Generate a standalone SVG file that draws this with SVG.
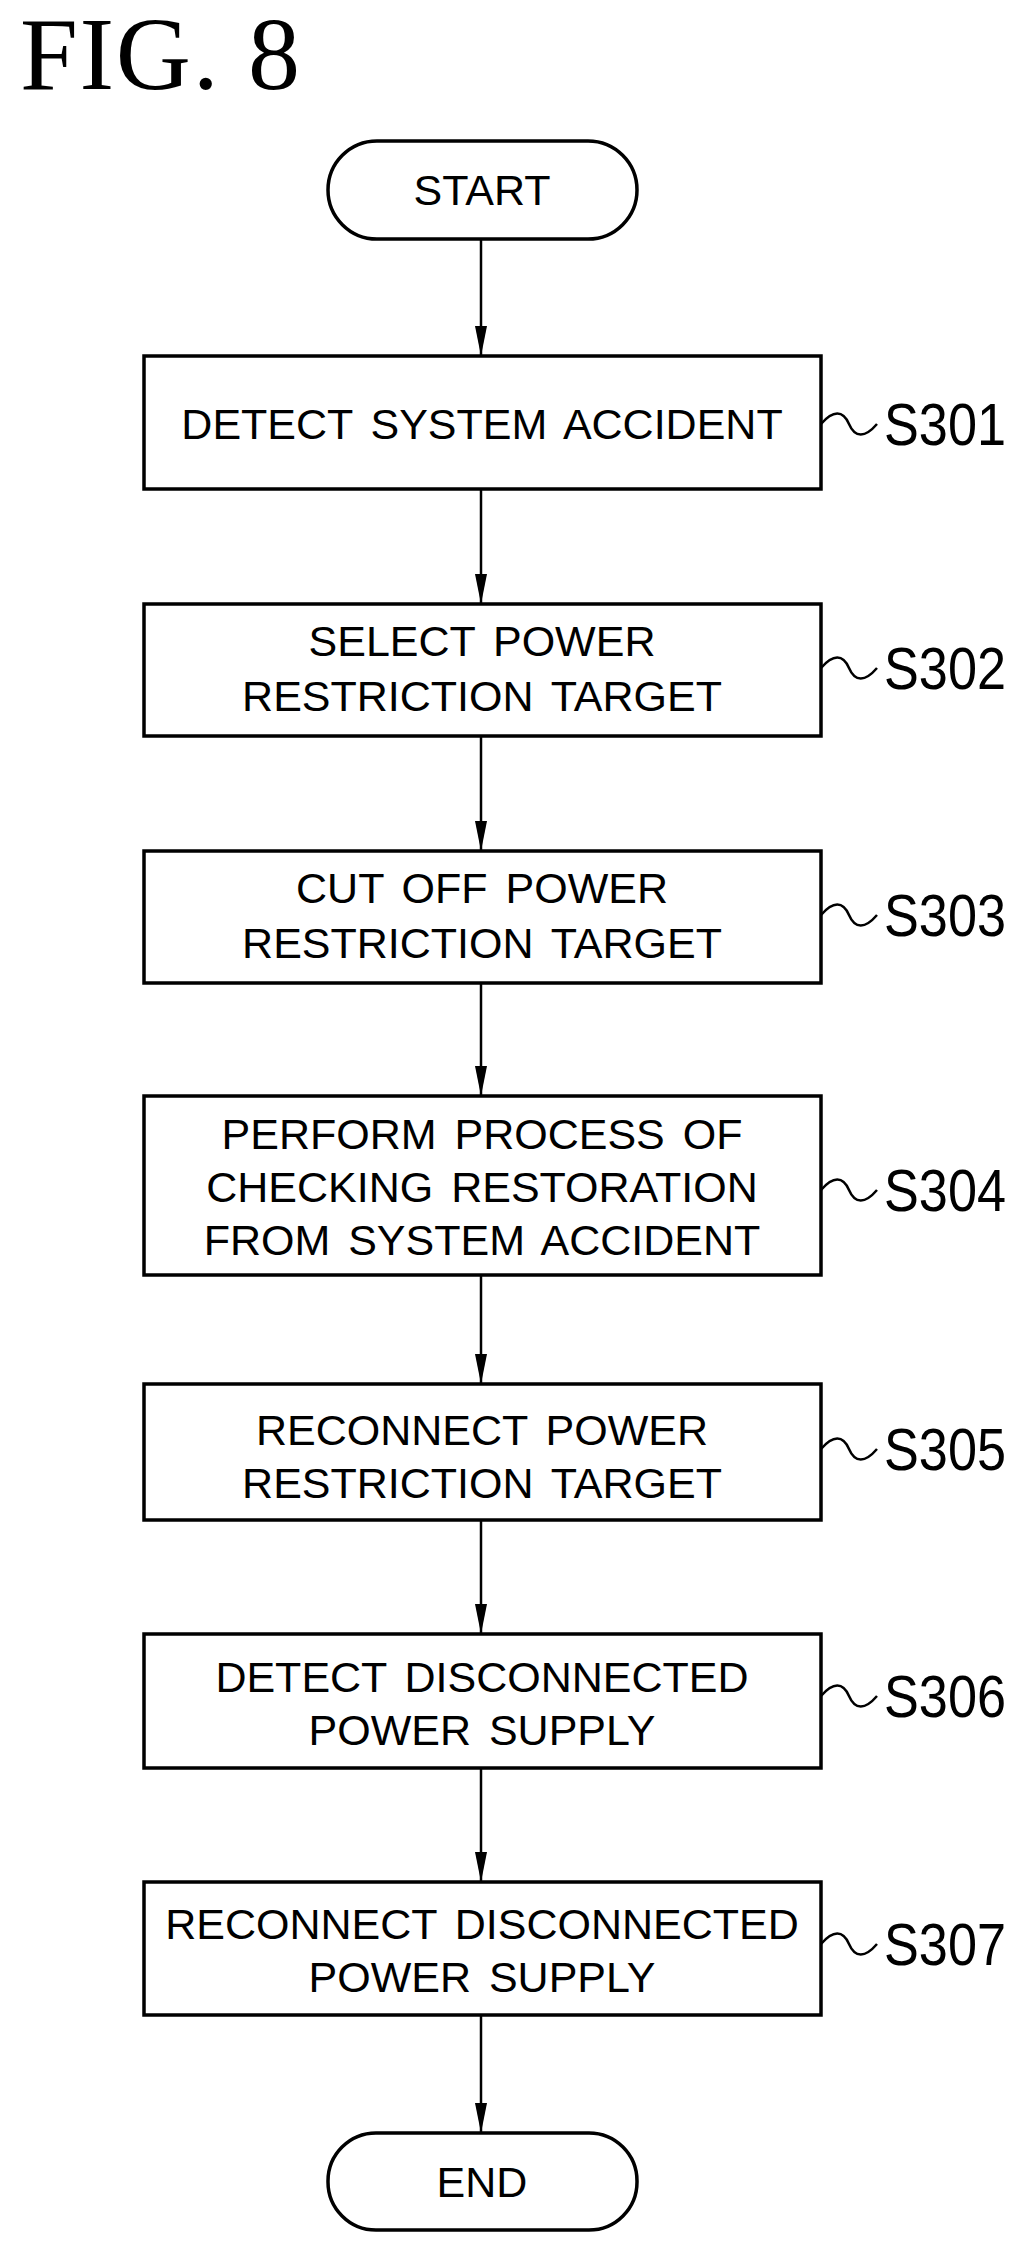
<svg xmlns="http://www.w3.org/2000/svg" width="1029" height="2261" viewBox="0 0 1029 2261">
<style>
.b{fill:#fff;stroke:#000;stroke-width:3.5}
.t{font-family:"Liberation Sans",sans-serif;font-size:43px;text-anchor:middle;dominant-baseline:central;word-spacing:6px}
.l{font-family:"Liberation Sans",sans-serif;font-size:60px;dominant-baseline:central}
.c{stroke:#000;stroke-width:2.5;fill:none}
</style>
<defs>
<marker id="ah" viewBox="0 0 30 12" refX="30" refY="6" markerWidth="30" markerHeight="12" orient="auto" markerUnits="userSpaceOnUse"><path d="M0,0 L30,6 L0,12Z"/></marker></defs>
<text x="20" y="89" font-family="Liberation Serif,serif" font-size="104" textLength="280" lengthAdjust="spacing">FIG. 8</text>
<g id="connectors">
<line class="c" x1="481" y1="239" x2="481" y2="356" marker-end="url(#ah)"/>
<line class="c" x1="481" y1="489" x2="481" y2="604" marker-end="url(#ah)"/>
<line class="c" x1="481" y1="736" x2="481" y2="851" marker-end="url(#ah)"/>
<line class="c" x1="481" y1="983" x2="481" y2="1096" marker-end="url(#ah)"/>
<line class="c" x1="481" y1="1275" x2="481" y2="1384" marker-end="url(#ah)"/>
<line class="c" x1="481" y1="1520" x2="481" y2="1634" marker-end="url(#ah)"/>
<line class="c" x1="481" y1="1768" x2="481" y2="1882" marker-end="url(#ah)"/>
<line class="c" x1="481" y1="2015" x2="481" y2="2133" marker-end="url(#ah)"/>
</g>
<g id="start"><rect class="b" x="328" y="141" width="309" height="98" rx="49"/><text class="t" x="482" y="190">START</text></g>
<g id="s301"><rect class="b" x="144" y="356" width="677" height="133"/><text class="t" x="482" y="424">DETECT SYSTEM ACCIDENT</text>
<path class="c" d="M821,424 c12,-14 22,-14 28,0 s16,14 28,0"/><text class="l" x="884" y="424" textLength="122" lengthAdjust="spacingAndGlyphs">S301</text></g>
<g id="s302"><rect class="b" x="144" y="604" width="677" height="132"/><text class="t" x="482" y="641">SELECT POWER</text><text class="t" x="482" y="696">RESTRICTION TARGET</text>
<path class="c" d="M821,668 c12,-14 22,-14 28,0 s16,14 28,0"/><text class="l" x="884" y="668" textLength="122" lengthAdjust="spacingAndGlyphs">S302</text></g>
<g id="s303"><rect class="b" x="144" y="851" width="677" height="132"/><text class="t" x="482" y="888">CUT OFF POWER</text><text class="t" x="482" y="943">RESTRICTION TARGET</text>
<path class="c" d="M821,915 c12,-14 22,-14 28,0 s16,14 28,0"/><text class="l" x="884" y="915" textLength="122" lengthAdjust="spacingAndGlyphs">S303</text></g>
<g id="s304"><rect class="b" x="144" y="1096" width="677" height="179"/><text class="t" x="482" y="1134">PERFORM PROCESS OF</text><text class="t" x="482" y="1187">CHECKING RESTORATION</text><text class="t" x="482" y="1240">FROM SYSTEM ACCIDENT</text>
<path class="c" d="M821,1190 c12,-14 22,-14 28,0 s16,14 28,0"/><text class="l" x="884" y="1190" textLength="122" lengthAdjust="spacingAndGlyphs">S304</text></g>
<g id="s305"><rect class="b" x="144" y="1384" width="677" height="136"/><text class="t" x="482" y="1430">RECONNECT POWER</text><text class="t" x="482" y="1483">RESTRICTION TARGET</text>
<path class="c" d="M821,1449 c12,-14 22,-14 28,0 s16,14 28,0"/><text class="l" x="884" y="1449" textLength="122" lengthAdjust="spacingAndGlyphs">S305</text></g>
<g id="s306"><rect class="b" x="144" y="1634" width="677" height="134"/><text class="t" x="482" y="1677">DETECT DISCONNECTED</text><text class="t" x="482" y="1730">POWER SUPPLY</text>
<path class="c" d="M821,1696 c12,-14 22,-14 28,0 s16,14 28,0"/><text class="l" x="884" y="1696" textLength="122" lengthAdjust="spacingAndGlyphs">S306</text></g>
<g id="s307"><rect class="b" x="144" y="1882" width="677" height="133"/><text class="t" x="482" y="1924">RECONNECT DISCONNECTED</text><text class="t" x="482" y="1977">POWER SUPPLY</text>
<path class="c" d="M821,1944 c12,-14 22,-14 28,0 s16,14 28,0"/><text class="l" x="884" y="1944" textLength="122" lengthAdjust="spacingAndGlyphs">S307</text></g>
<g id="end"><rect class="b" x="328" y="2133" width="309" height="97" rx="48"/><text class="t" x="482" y="2182">END</text></g>
</svg>
